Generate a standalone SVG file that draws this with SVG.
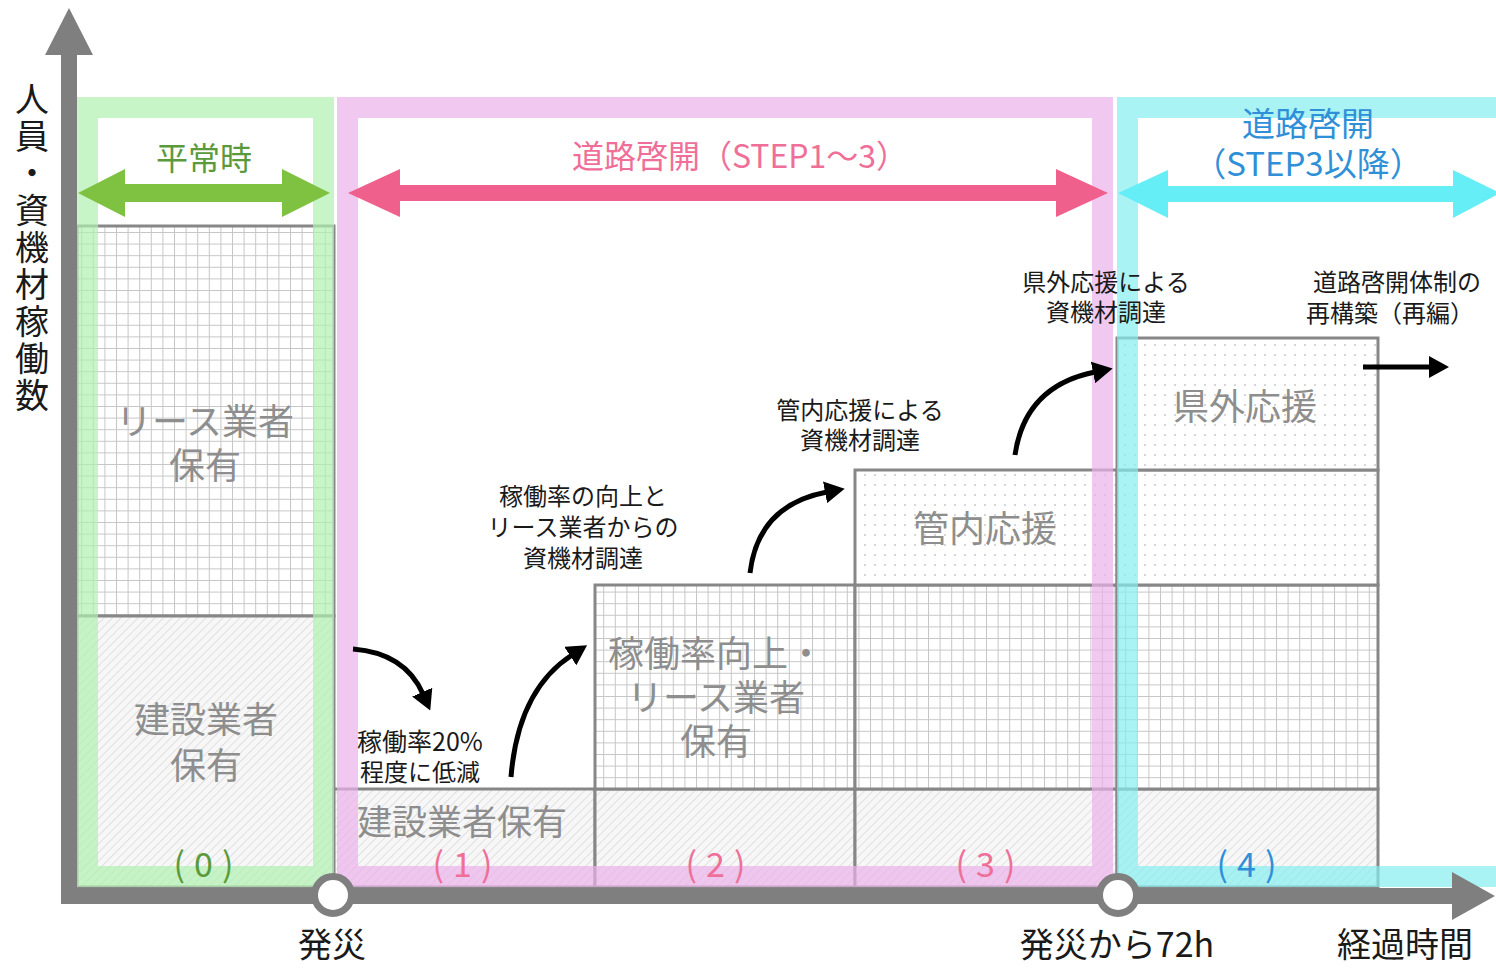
<svg xmlns="http://www.w3.org/2000/svg" width="1496" height="968" viewBox="0 0 1496 968">
<style>
text{font-family:"Noto Sans CJK JP","Noto Sans",sans-serif;text-anchor:middle}
.blk{stroke:#878787;stroke-width:3}
.bl{font-size:36px;fill:#8e8e8e}
.ann{font-size:24px;fill:#1a1a1a}
.num{font-size:34px;letter-spacing:9px}
.band{fill:none;stroke-width:21;stroke-opacity:0.7}
.cur{fill:none;stroke:#000;stroke-width:5}
.axis{fill:#7f7f7f}
.ax{font-size:34px;fill:#1a1a1a}
</style>
<defs>
<pattern id="grid" patternUnits="userSpaceOnUse" width="11.6" height="11.6">
<rect width="11.6" height="11.6" fill="#fff"/>
<path d="M0,0.5H11.6M0.5,0V11.6" stroke="#c6c6c6" stroke-width="1"/>
</pattern>
<pattern id="hatch" patternUnits="userSpaceOnUse" width="6" height="6" patternTransform="rotate(45)">
<rect width="6" height="6" fill="#f7f7f7"/>
<line x1="0" y1="0" x2="0" y2="6" stroke="#d6d6d6" stroke-width="1.4"/>
</pattern>
<pattern id="dots" patternUnits="userSpaceOnUse" width="10" height="10">
<rect width="10" height="10" fill="#fff"/>
<circle cx="5" cy="5" r="0.9" fill="#c4c4c4"/>
</pattern>
<marker id="ah" viewBox="0 0 20 22" refX="2" refY="11" markerWidth="20" markerHeight="22" markerUnits="userSpaceOnUse" orient="auto">
<path d="M0,0L20,11L0,22z" fill="#000"/>
</marker>
</defs>
<rect width="1496" height="968" fill="#fff"/>

<g id="col0">
<rect class="blk" x="77" y="226" width="257" height="390" fill="url(#grid)"/>
<rect class="blk" x="77" y="616" width="257" height="271" fill="url(#hatch)"/>
<text class="bl" x="205" y="435">リース業者<tspan x="205" dy="44">保有</tspan></text>
<text class="bl" x="206" y="733">建設業者<tspan x="206" dy="46">保有</tspan></text>
</g>
<g id="col1">
<rect class="blk" x="334" y="789" width="261" height="98" fill="url(#hatch)"/>
<text class="bl" x="462" y="835" style="font-size:35px">建設業者保有</text>
</g>
<g id="col2">
<rect class="blk" x="595" y="789" width="260" height="98" fill="url(#hatch)"/>
<rect class="blk" x="595" y="585" width="260" height="204" fill="url(#grid)"/>
<text class="bl" x="716" y="667">稼働率向上・<tspan x="716" dy="44">リース業者</tspan><tspan x="716" dy="44">保有</tspan></text>
</g>
<g id="col3">
<rect class="blk" x="855" y="789" width="262" height="98" fill="url(#hatch)"/>
<rect class="blk" x="855" y="585" width="262" height="204" fill="url(#grid)"/>
<rect class="blk" x="855" y="470" width="262" height="115" fill="url(#dots)"/>
<text class="bl" x="985" y="542">管内応援</text>
</g>
<g id="col4">
<rect class="blk" x="1117" y="789" width="261" height="98" fill="url(#hatch)"/>
<rect class="blk" x="1117" y="585" width="261" height="204" fill="url(#grid)"/>
<rect class="blk" x="1117" y="470" width="261" height="115" fill="url(#dots)"/>
<rect class="blk" x="1117" y="338" width="261" height="132" fill="url(#dots)"/>
<text class="bl" x="1245" y="420">県外応援</text>
</g>

<g id="phase-normal">
<rect class="band" x="87.5" y="107.5" width="236" height="769" stroke="#b0f1b0"/>
<polygon points="78,193 125,169 125,184 282,184 282,169 330,193 282,217 282,202 125,202 125,217" fill="#7fc241"/>
<text x="204" y="170" style="font-size:32px;fill:#5b9a3b">平常時</text>
<text class="num" x="208" y="877" fill="#5b9a3b">(0)</text>
</g>
<g id="phase-step13">
<rect class="band" x="347.5" y="107.5" width="755" height="769" stroke="#eab0ea"/>
<polygon points="348,193 400,169 400,185 1056,185 1056,169 1108,193 1056,217 1056,201 400,201 400,217" fill="#f0608c"/>
<text x="740" y="168" style="font-size:32px;fill:#ef6f98">道路啓開（STEP1～3）</text>
<text class="num" x="467" y="877" fill="#ef6f98">(1)</text>
<text class="num" x="720" y="877" fill="#ef6f98">(2)</text>
<text class="num" x="990" y="877" fill="#ef6f98">(3)</text>
</g>
<g id="phase-step3">
<path class="band" d="M1500,107.5H1127.5V876.5H1500" stroke="#86eef1"/>
<polygon points="1118,193 1168,170 1168,186 1453,186 1453,170 1500,193 1453,218 1453,202 1168,202 1168,218" fill="#66eef6"/>
<text x="1308" y="136" style="font-size:33px;fill:#2f90d8">道路啓開<tspan x="1308" dy="40">（STEP3以降）</tspan></text>
<text class="num" x="1251" y="877" fill="#2f90d8">(4)</text>
</g>

<g id="connectors">
<path class="cur" d="M353,649 Q405,653 423,694" marker-end="url(#ah)"/>
<path class="cur" d="M511,777 Q518,690 572,655" marker-end="url(#ah)"/>
<path class="cur" d="M750,573 Q758,505 827,492" marker-end="url(#ah)"/>
<path class="cur" d="M1015,455 Q1025,386 1095,372" marker-end="url(#ah)"/>
<path class="cur" d="M1363,367 L1431,367" marker-end="url(#ah)"/>
</g>

<g id="annotations">
<text class="ann" x="420" y="751"><tspan style="font-size:25px">稼働率20%</tspan><tspan x="420" dy="30">程度に低減</tspan></text>
<text class="ann" x="583" y="505">稼働率の向上と<tspan x="583" dy="31">リース業者からの</tspan><tspan x="583" dy="31">資機材調達</tspan></text>
<text class="ann" x="860" y="419">管内応援による<tspan x="860" dy="30">資機材調達</tspan></text>
<text class="ann" x="1106" y="291">県外応援による<tspan x="1106" dy="30">資機材調達</tspan></text>
<text class="ann" x="1397" y="291">道路啓開体制の<tspan x="1390" dy="31">再構築（再編）</tspan></text>
</g>

<g id="axes">
<rect class="axis" x="61" y="50" width="16" height="854"/>
<polygon class="axis" points="69,8 93,55 45,55"/>
<rect class="axis" x="61" y="888" width="1395" height="16"/>
<polygon class="axis" points="1495,896 1452,872 1452,920"/>
<circle cx="333" cy="895" r="18.5" fill="#fff" stroke="#7f7f7f" stroke-width="7"/>
<circle cx="1118" cy="895" r="18.5" fill="#fff" stroke="#7f7f7f" stroke-width="7"/>
</g>

<g id="axis-labels">
<text x="32" y="82" writing-mode="vertical-rl" style="font-size:34px;fill:#1a1a1a;text-anchor:start;letter-spacing:3px">人員・資機材稼働数</text>
<text class="ax" x="332" y="957">発災</text>
<text class="ax" x="1117" y="957">発災から72h</text>
<text class="ax" x="1405" y="957">経過時間</text>
</g>
</svg>
